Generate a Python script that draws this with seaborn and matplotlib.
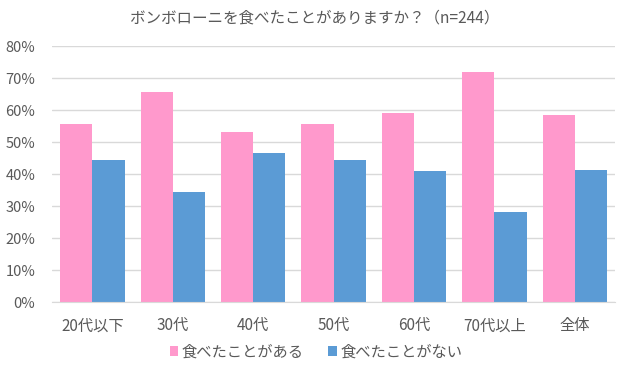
import pandas as pd
import matplotlib.pyplot as plt
import seaborn as sns
from matplotlib.ticker import PercentFormatter

# === data ===
categories = ["20代以下", "30代", "40代", "50代", "60代", "70代以上", "全体"]
eaten = [55.6, 65.6, 53.3, 55.6, 59.0, 72.0, 58.6]
not_eaten = [44.4, 34.4, 46.7, 44.4, 41.0, 28.0, 41.4]
series_names = ["食べたことがある", "食べたことがない"]
colors = ["#FF99CC", "#5B9BD5"]

df = pd.DataFrame({
    "category": categories * 2,
    "value": eaten + not_eaten,
    "series": [series_names[0]] * len(categories) + [series_names[1]] * len(categories),
})

sns.set_style("white")
plt.rcParams["font.family"] = ["Noto Sans CJK JP", "DejaVu Sans"]
text_color = "#595959"

fig, ax = plt.subplots(figsize=(6.36, 3.72), dpi=100)
sns.barplot(data=df, x="category", y="value", hue="series", palette=colors,
            width=0.8, saturation=1, linewidth=0, ax=ax, zorder=2)

ax.set_ylim(0, 80)
ax.set_yticks(range(0, 81, 10))
ax.yaxis.set_major_formatter(PercentFormatter(decimals=0))
ax.grid(axis="y", color="#D9D9D9", linewidth=1, zorder=0)
ax.set_axisbelow(True)
for s in ["top", "right", "left"]:
    ax.spines[s].set_visible(False)
ax.spines["bottom"].set_color("#D9D9D9")
ax.set_xlabel("")
ax.set_ylabel("")
ax.tick_params(axis="y", colors=text_color, labelsize=10.5, length=0, pad=12)
ax.tick_params(axis="x", colors=text_color, labelsize=11, length=0, pad=11)
ax.set_xlim(-0.5, len(categories) - 0.5)

# title and legend are centred on the whole figure, not the axes
fig.suptitle("ボンボローニを食べたことがありますか？（n=244）", color=text_color,
             fontsize=11.2, x=0.495, y=0.952, va="center")

handles, labels = ax.get_legend_handles_labels()
ax.get_legend().remove()
fig.legend(handles, labels, loc="center", bbox_to_anchor=(0.497, 0.054), ncol=2,
           frameon=False, fontsize=11, labelcolor=text_color, handlelength=0.55,
           handleheight=0.55, handletextpad=0.25, columnspacing=1.6)

plt.subplots_adjust(left=0.082, right=0.967, top=0.876, bottom=0.188)
plt.savefig("out.png", dpi=100)
plt.close()
